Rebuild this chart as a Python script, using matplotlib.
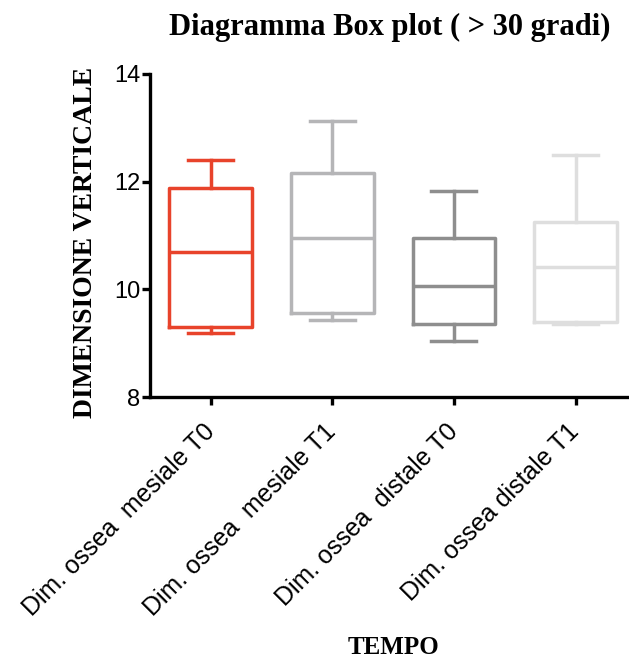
import matplotlib
matplotlib.use("Agg")
import matplotlib.pyplot as plt

categories = ["Dim. ossea  mesiale T0", "Dim. ossea  mesiale T1",
              "Dim. ossea  distale T0", "Dim. ossea distale T1"]
whisker_low = [9.19, 9.43, 9.04, 9.36]
q1 = [9.30, 9.56, 9.35, 9.39]
median = [10.69, 10.96, 10.06, 10.41]
q3 = [11.89, 12.17, 10.96, 11.26]
whisker_high = [12.41, 13.13, 11.83, 12.50]
colors = ["#E8432B", "#B5B5B7", "#8E8E8E", "#DEDEDE"]
yticks = [8, 10, 12, 14]

fig = plt.figure(figsize=(6.29, 6.61), dpi=100)
ax = fig.add_axes([150/629, 1-397/661, 1-150/629, (397-74)/661])

for i in range(len(categories)):
    st = [dict(label=categories[i], whislo=whisker_low[i], q1=q1[i], med=median[i],
               q3=q3[i], whishi=whisker_high[i], fliers=[])]
    c = colors[i]
    lw = 2.5
    ax.bxp(st, positions=[i+1], widths=0.68, showfliers=False, patch_artist=False,
           boxprops=dict(color=c, linewidth=lw),
           medianprops=dict(color=c, linewidth=lw),
           whiskerprops=dict(color=c, linewidth=lw),
           capprops=dict(color=c, linewidth=lw),
           capwidths=0.37, manage_ticks=False)

ax.set_xlim(0.5, 4.44)
ax.set_ylim(8, 14)
ax.set_yticks(yticks)
ax.set_yticklabels([str(t) for t in yticks], fontfamily="Liberation Sans", fontsize=17)
ax.set_xticks(range(1, len(categories)+1))
ax.set_xticklabels(categories, rotation=45, ha="right", va="center", rotation_mode="anchor",
                   fontfamily="Liberation Sans", fontsize=18)
for s in ["top", "right"]:
    ax.spines[s].set_visible(False)
for s in ["left", "bottom"]:
    ax.spines[s].set_linewidth(2.4)
ax.tick_params(axis="both", direction="out", length=6, width=2.4, pad=1)
ax.tick_params(axis="x", pad=16)

ax.set_ylabel("DIMENSIONE VERTICALE", fontfamily="Liberation Serif", fontweight="bold",
              fontsize=20)
ax.yaxis.set_label_coords(-0.108, 0.48)
fig.text(393/629, 1-648/661, "TEMPO", fontfamily="Liberation Serif", fontweight="bold",
         fontsize=18, ha="center", va="center")
fig.text(390/629, 1-27/661, "Diagramma Box plot ( > 30 gradi)", fontfamily="Liberation Serif",
         fontweight="bold", fontsize=22, ha="center", va="center")

fig.savefig("out.png", dpi=100)
